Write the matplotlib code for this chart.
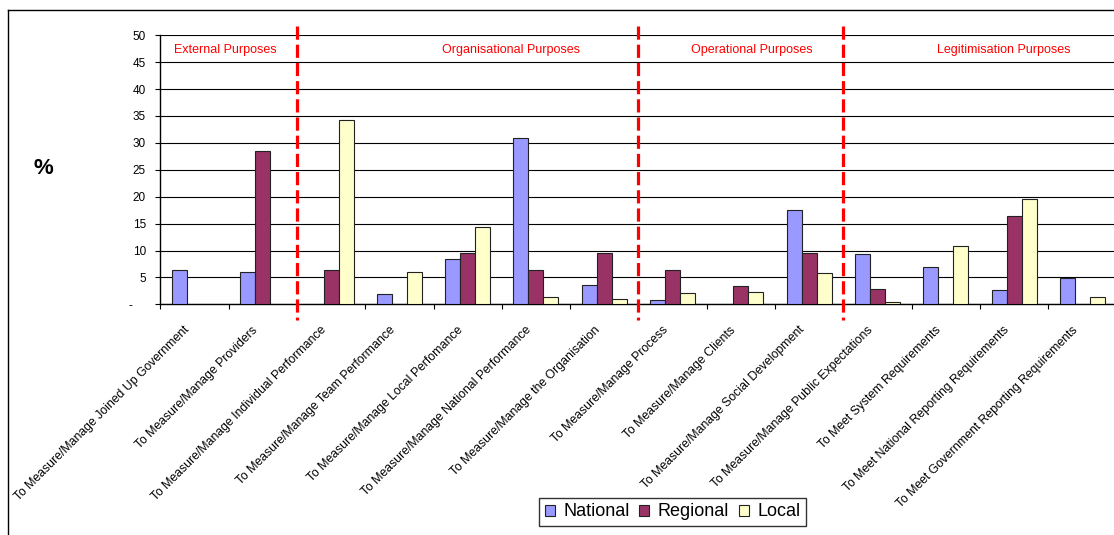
import numpy as np
import matplotlib
matplotlib.use("Agg")
import matplotlib.pyplot as plt
from matplotlib.transforms import ScaledTranslation
from matplotlib.lines import Line2D

plt.rcParams['font.family'] = ['Liberation Sans', 'DejaVu Sans']
plt.rcParams['lines.scale_dashes'] = False

# ---- data -------------------------------------------------------------
categories = [
    "To Measure/Manage Joined Up Government",
    "To Measure/Manage Providers",
    "To Measure/Manage Individual Performance",
    "To Measure/Manage Team Performance",
    "To Measure/Manage Local Perfomance",
    "To Measure/Manage National Performance",
    "To Measure/Manage the Organisation",
    "To Measure/Manage Process",
    "To Measure/Manage Clients",
    "To Measure/Manage Social Development",
    "To Measure/Manage Public Expectations",
    "To Meet System Requirements",
    "To Meet National Reporting Requirements",
    "To Meet Government Reporting Requirements",
]
nan = np.nan
national = [6.3, 6.0, nan, 1.9, 8.5, 30.9, 3.6, 0.8, nan, 17.5, 9.3, 6.9, 2.7, 4.9]
regional = [nan, 28.5, 6.3, nan, 9.5, 6.3, 9.5, 6.3, 3.4, 9.5, 2.9, nan, 16.4, nan]
local = [nan, nan, 34.3, 6.0, 14.4, 1.4, 0.9, 2.1, 2.3, 5.8, 0.5, 10.9, 19.5, 1.3]

series_names = ["National", "Regional", "Local"]
series_colors = ["#9999FF", "#993366", "#FFFFCC"]

group_names = ["External Purposes", "Organisational Purposes",
               "Operational Purposes", "Legitimisation Purposes"]
group_bounds = [1.5, 6.5, 9.5]          # dividers between purpose groups
group_label_x = [0.45, 4.63, 8.16, 11.85]

yticks = [0, 5, 10, 15, 20, 25, 30, 35, 40, 45, 50]
ytick_labels = ["-"] + [str(v) for v in yticks[1:]]

# ---- figure -----------------------------------------------------------
W, H = 1114, 535
fig = plt.figure(figsize=(W / 100, H / 100), dpi=100)

# outer chart frame (left and top edges)
fig.add_artist(Line2D([8 / W, 8 / W], [0, 1 - 10 / H], color="black", lw=1.0,
                      transform=fig.transFigure))
fig.add_artist(Line2D([8 / W, 1], [1 - 10 / H, 1 - 10 / H], color="black", lw=1.0,
                      transform=fig.transFigure))

ax = fig.add_axes([160.3 / W, 1 - 304.3 / H, (1116.5 - 160.3) / W, (304.3 - 35.3) / H])
ax.set_xlim(-0.5, len(categories) - 0.5)
ax.set_ylim(0, 50)

x = np.arange(len(categories))
w = 0.22
for i, (vals, name, col) in enumerate(zip([national, regional, local],
                                          series_names, series_colors)):
    ax.bar(x + (i - 1) * w, np.array(vals, dtype=float), width=w, color=col,
           edgecolor="#222222", linewidth=0.8, label=name, zorder=3)

# grid and spines
ax.set_axisbelow(True)
ax.yaxis.grid(True, color="black", linewidth=0.8)
for s in ["top", "right"]:
    ax.spines[s].set_visible(False)
ax.spines["left"].set_linewidth(1.0)
ax.spines["bottom"].set_linewidth(1.0)

# y axis
ax.set_yticks(yticks)
ax.set_yticklabels(ytick_labels, fontsize=8.5)
ax.tick_params(axis="y", direction="out", length=3.3, width=0.8, pad=7)
zero_lbl = ax.get_yticklabels()[0]
zero_lbl.set_transform(zero_lbl.get_transform() +
                       ScaledTranslation(-0.14, 0, fig.dpi_scale_trans))

# x axis: labels at category centres, ticks at category boundaries
ax.set_xticks(x)
ax.set_xticks(np.arange(-0.5, len(categories), 1.0), minor=True)
ax.tick_params(axis="x", which="major", length=0, pad=0)
ax.tick_params(axis="x", which="minor", direction="out", length=3.3, width=0.8)
ax.set_xticklabels(categories, fontsize=8.8, rotation=45, ha="right",
                   va="center", rotation_mode="anchor")
for lbl in ax.get_xticklabels():
    lbl.set_transform(lbl.get_transform() +
                      ScaledTranslation(-0.065, -0.24, fig.dpi_scale_trans))

# "%" axis label
fig.text(43 / W, 1 - 168 / H, "%", fontsize=16, fontweight="bold",
         ha="center", va="center")

# group dividers and names
for b in group_bounds:
    ax.plot([b, b], [51.7, -3.0], color="#FF0000", lw=2.3,
            dashes=(9.5, 3.6), clip_on=False, zorder=4)
for gx, gname in zip(group_label_x, group_names):
    ax.text(gx, 47.3, gname, color="#FF0000", fontsize=9,
            ha="center", va="center")

leg = fig.legend(loc="center", bbox_to_anchor=(672.5 / W, 1 - 512 / H), ncol=3,
                 fontsize=13, frameon=True, fancybox=False, shadow=False,
                 handlelength=0.56, handleheight=0.58, handletextpad=0.45,
                 columnspacing=0.55, borderpad=0.33)
leg.get_frame().set_edgecolor("black")
leg.get_frame().set_linewidth(1.0)

fig.savefig("out.png", dpi=100)
